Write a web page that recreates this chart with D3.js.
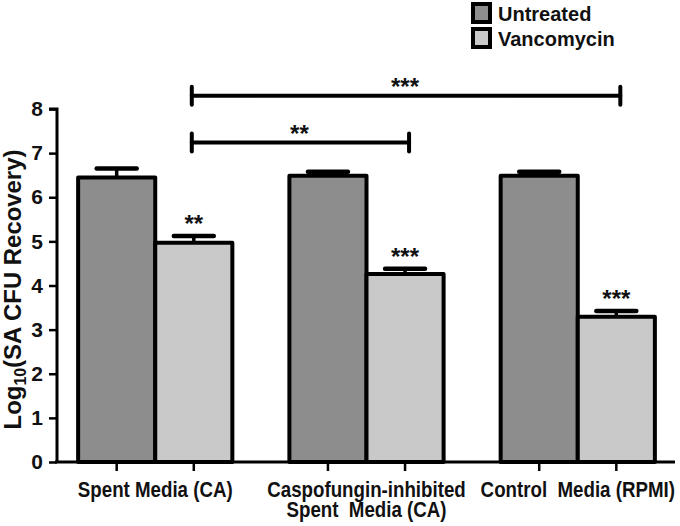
<!DOCTYPE html>
<html>
<head>
<meta charset="utf-8">
<script src="https://cdn.jsdelivr.net/npm/d3@7"></script>
<style>
  html, body { margin: 0; padding: 0; background: #fff; }
  svg { display: block; }
</style>
</head>
<body>
<svg id="chart" width="680" height="526"></svg>
<script>
// ---- data ----
const groups = ["Spent Media (CA)", "Caspofungin-inhibited Spent Media (CA)", "Control Media (RPMI)"];
const groupLabelLines = [["Spent Media (CA)"], ["Caspofungin-inhibited", "Spent  Media (CA)"], ["Control  Media (RPMI)"]];
const seriesNames = ["Untreated", "Vancomycin"];
const untreatedValues = [6.45, 6.49, 6.49];
const untreatedErrors = [0.20, 0.09, 0.09];
const vancomycinValues = [4.97, 4.26, 3.29];
const vancomycinErrors = [0.15, 0.12, 0.13];
const barStars = ["**", "***", "***"];           // above vancomycin bars
const yTicks = [0, 1, 2, 3, 4, 5, 6, 7, 8];
// significance brackets between vancomycin bars
const brackets = [
  {from: 0, to: 2, level: 8.3, label: "***"},
  {from: 0, to: 1, level: 7.24, label: "**"}
];

const colors = {Untreated: "#8d8d8d", Vancomycin: "#c9c9c9"};

const svg = d3.select("#chart");
const y = d3.scaleLinear().domain([0, 8]).range([462, 109]);
const x0 = d3.scaleBand().domain(groups).range([57, 676]).paddingInner(0.27).paddingOuter(0.1);
const x1 = d3.scaleBand().domain(seriesNames).range([0, x0.bandwidth()]);

const rows = groups.map((g, i) => ({
  group: g,
  bars: [
    {s: "Untreated", v: untreatedValues[i], e: untreatedErrors[i]},
    {s: "Vancomycin", v: vancomycinValues[i], e: vancomycinErrors[i], star: barStars[i]}
  ]
}));

const font = "'Liberation Sans', Arial, Helvetica, sans-serif";

// error bars (drawn first; bars cover lower half)
const gBars = svg.append("g");
rows.forEach(r => {
  r.bars.forEach(b => {
    const cx = x0(r.group) + x1(b.s) + x1.bandwidth() / 2;
    gBars.append("line").attr("x1", cx).attr("x2", cx)
      .attr("y1", y(b.v)).attr("y2", y(b.v + b.e))
      .attr("stroke", "#000").attr("stroke-width", 3.5);
    gBars.append("line").attr("x1", cx - 20).attr("x2", cx + 20)
      .attr("y1", y(b.v + b.e)).attr("y2", y(b.v + b.e))
      .attr("stroke", "#000").attr("stroke-width", 4.5).attr("stroke-linecap", "round");
  });
});
rows.forEach(r => {
  r.bars.forEach(b => {
    gBars.append("rect")
      .attr("x", x0(r.group) + x1(b.s))
      .attr("y", y(b.v))
      .attr("width", x1.bandwidth())
      .attr("height", y(0) - y(b.v))
      .attr("fill", colors[b.s])
      .attr("stroke", "#000").attr("stroke-width", 4)
      .attr("stroke-linejoin", "round");
    if (b.star) {
      const cx = x0(r.group) + x1(b.s) + x1.bandwidth() / 2;
      gBars.append("text").attr("x", cx).attr("y", y(b.v + b.e) - 4)
        .attr("text-anchor", "middle").attr("font-family", font)
        .attr("font-weight", "bold").attr("font-size", 24).attr("fill", "#111")
        .text(b.star);
    }
  });
});

// y axis
const yAxis = d3.axisLeft(y).tickValues(yTicks).tickSize(8).tickPadding(6).tickFormat(d3.format("d"));
const gy = svg.append("g").attr("transform", "translate(57,0)").call(yAxis);
gy.select(".domain").attr("stroke-width", 3).attr("d", `M-8,${y(8)}H0V${y(0)}`);
gy.selectAll(".tick line").attr("stroke-width", 2.5);
gy.selectAll(".tick text").attr("font-family", font).attr("font-weight", "bold")
  .attr("font-size", 21).attr("fill", "#111");

// x axis baseline and ticks
const centers = [];
rows.forEach(r => r.bars.forEach(b => centers.push(x0(r.group) + x1(b.s) + x1.bandwidth() / 2)));
svg.append("line").attr("x1", 55).attr("x2", 675).attr("y1", y(0)).attr("y2", y(0))
  .attr("stroke", "#000").attr("stroke-width", 3);
svg.selectAll(".xt").data(centers).enter().append("line")
  .attr("x1", d => d).attr("x2", d => d).attr("y1", y(0)).attr("y2", y(0) + 9)
  .attr("stroke", "#000").attr("stroke-width", 2.5);

// x labels (condensed bold)
const labelNodes = [];
groups.forEach((g, i) => {
  const cx = x0(g) + x0.bandwidth() / 2;
  const t = svg.append("text").attr("text-anchor", "middle")
    .attr("font-family", font).attr("font-weight", "bold").attr("font-size", 22)
    .attr("fill", "#111").style("white-space", "pre").attr("data-cx", cx);
  groupLabelLines[i].forEach((line, k) => {
    t.append("tspan").attr("x", 0).attr("y", 497 + k * 20.5).text(line);
  });
  labelNodes.push(t);
});
// condense so the first label is ~155px wide, as in the original
const w0 = labelNodes[0].select("tspan").node().getComputedTextLength();
const sx = w0 > 0 ? 155 / w0 : 0.84;
labelNodes.forEach(t => t.attr("transform", `translate(${t.attr("data-cx")},0) scale(${sx},1)`));

// y title
const ytSize0 = 18;
const yt = svg.append("text")
  .attr("transform", `translate(21,${(y(0) + y(8)) / 2 + 4}) rotate(-90)`)
  .attr("text-anchor", "middle").attr("font-family", font).attr("font-weight", "bold")
  .attr("font-size", ytSize0).attr("fill", "#111");
const ytA = yt.append("tspan").text("Log");
const ytB = yt.append("tspan").attr("font-size", 12).attr("dy", 4).text("10");
const ytC = yt.append("tspan").attr("dy", -4).text("(SA CFU Recovery)");
const ytLen = yt.node().getComputedTextLength();
if (ytLen > 0) {
  const k = 280 / ytLen;
  yt.attr("font-size", ytSize0 * k);
  ytB.attr("font-size", 12 * k).attr("dy", 4 * k);
  ytC.attr("dy", -4 * k);
}

// significance brackets
const vx = i => x0(groups[i]) + x1("Vancomycin") + x1.bandwidth() / 2;
brackets.forEach(b => {
  const yy = y(b.level);
  const g = svg.append("g").attr("stroke", "#000").attr("stroke-width", 4).attr("stroke-linecap", "round");
  g.append("line").attr("x1", vx(b.from) - 2).attr("x2", vx(b.to) + 4).attr("y1", yy).attr("y2", yy);
  g.append("line").attr("x1", vx(b.from) - 2).attr("x2", vx(b.from) - 2).attr("y1", yy - 9).attr("y2", yy + 9);
  g.append("line").attr("x1", vx(b.to) + 4).attr("x2", vx(b.to) + 4).attr("y1", yy - 9).attr("y2", yy + 9);
  svg.append("text").attr("x", (vx(b.from) + vx(b.to)) / 2).attr("y", yy - 1)
    .attr("text-anchor", "middle").attr("font-family", font).attr("font-weight", "bold")
    .attr("font-size", 24).attr("fill", "#111").text(b.label);
});

// legend
const lg = svg.append("g").attr("transform", "translate(471,2)");
seriesNames.forEach((s, i) => {
  lg.append("rect").attr("x", 2).attr("y", i * 25 + 2).attr("width", 17).attr("height", 18)
    .attr("fill", colors[s]).attr("stroke", "#000").attr("stroke-width", 4);
  lg.append("text").attr("x", 27).attr("y", i * 25 + 19)
    .attr("font-family", font).attr("font-weight", "bold").attr("font-size", 20)
    .attr("fill", "#111").text(s);
});
</script>
</body>
</html>
